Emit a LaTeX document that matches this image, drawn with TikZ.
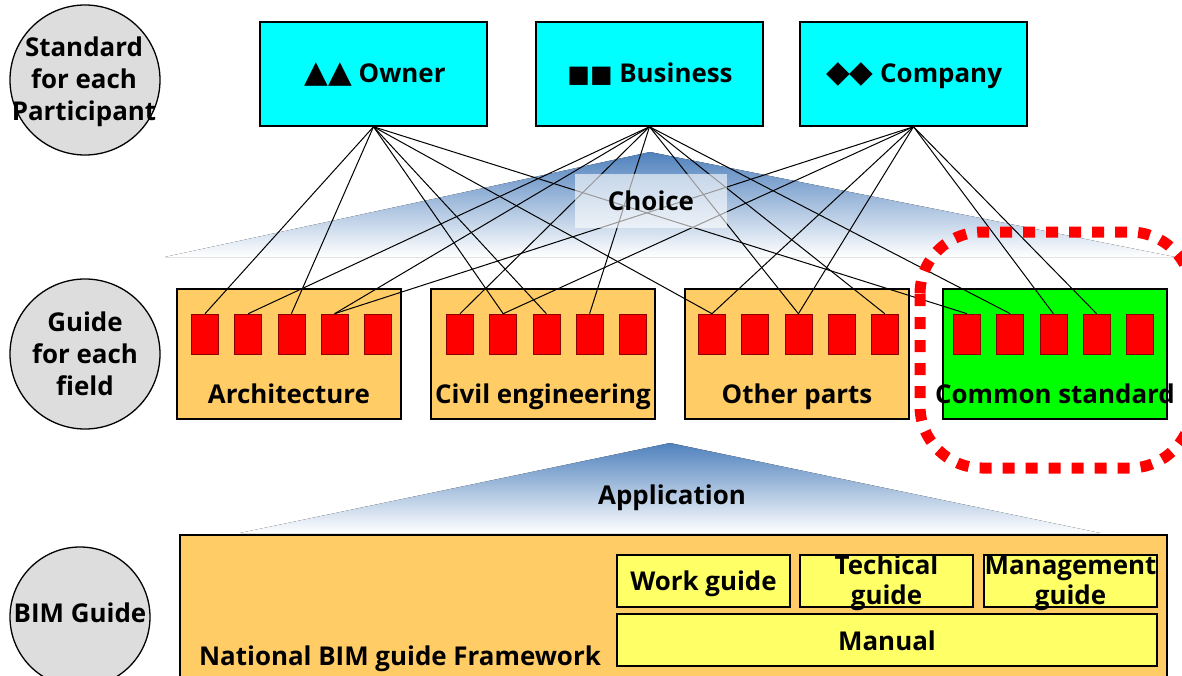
\documentclass[tikz,border=0pt]{standalone}
\usepackage{fontspec}
\setmainfont{Open Sans}
\newfontfamily\symfont{DejaVu Sans}
\definecolor{orangebg}{RGB}{255,204,102}
\definecolor{yellowbox}{RGB}{255,255,102}
\definecolor{circgray}{RGB}{221,221,221}
\definecolor{steel}{RGB}{79,129,189}
\definecolor{cyanbox}{RGB}{0,255,255}
\definecolor{greenbox}{RGB}{0,255,0}
\begin{document}
\begin{tikzpicture}[x=1bp,y=-1bp,
  lab/.style={font=\bfseries\fontsize{26}{32}\selectfont, align=center, inner sep=0pt},
  blab/.style={lab, anchor=base},
  circ/.style={circle, draw=black, line width=1.3bp, fill=circgray, inner sep=0pt},
  topbox/.style={draw=black, line width=1.5bp, fill=cyanbox, minimum width=227bp, minimum height=104bp, inner sep=0pt},
  fieldbox/.style={draw=black, line width=1.5bp, fill=orangebg, minimum width=224bp, minimum height=130bp, inner sep=0pt},
  sq/.style={draw=red!55!black, line width=0.6bp, fill=red, minimum width=27bp, minimum height=40bp, inner sep=0pt},
  conn/.style={line width=1bp, black},
  ybox/.style={draw=black, line width=1.2bp, fill=yellowbox, inner sep=0pt},
  fade/.style={top color=steel, bottom color=white}
]
\useasboundingbox (0,0) rectangle (1182,676);
\clip (0,0) rectangle (1182,676);

% gradient roofs
\fill[fade] (650,152) -- (165,257) -- (1175,257) -- cycle;
\fill[fade] (670,443) -- (240,533) -- (1100,533) -- cycle;

% left circles
\node[circ, minimum size=150bp] (c1) at (85,80) {};
\node[lab] (c1t) at (84,82) {Standard\\for each\\Participant};
\node[circ, minimum size=150bp] (c2) at (85,354) {};
\node[lab] (c2t) at (85,354) {Guide\\for each\\field};
\node[circ, minimum size=140bp] (c3) at (80,617) {};
\node[blab] (c3t) at (80,622) {BIM Guide};

% top boxes
\node[topbox] (own) at (373.5,74) {};
\node[blab] at (375,83) {{\symfont\fontsize{31}{34}\selectfont ▲▲} Owner};
\node[topbox] (bus) at (649.5,74) {};
\node[blab] at (650,83) {{\symfont\fontsize{24}{28}\selectfont ■■} Business};
\node[topbox] (com) at (913.5,74) {};
\node[blab] at (914,83) {{\symfont\fontsize{31}{34}\selectfont ◆◆} Company};

% field boxes
\node[fieldbox] (arch) at (289,354) {};
\node[fieldbox] (civ) at (543,354) {};
\node[fieldbox] (oth) at (797,354) {};
\node[fieldbox, fill=greenbox] (cst) at (1055,354) {};

\foreach \n/\x in {a/205, c/460, o/712, s/967}{
  \foreach \i in {1,...,5}{
    \node[sq] (\n\i) at ({\x+(\i-1)*43.2},334) {};
  }
}

\node[blab] at (289,403) {Architecture};
\node[blab] at (543,403) {Civil engineering};
\node[blab] at (797,403) {Other parts};
\node[blab] at (1055,403) {Common standard};

% connectors
\foreach \t in {a1,a3,c2,c3,o1,s1} \draw[conn] (own.south) -- (\t.north);
\foreach \t in {a2,a4,c1,c4,o3,o5,s2} \draw[conn] (bus.south) -- (\t.north);
\foreach \t in {a4,c2,o1,o3,s3,s4} \draw[conn] (com.south) -- (\t.north);

% choice box
\node[fill=white, fill opacity=0.6, text opacity=1, minimum width=152bp, minimum height=53bp, inner sep=0pt] (choice) at (651,201) {};
\node[blab] at (651,211) {Choice};

% application
\node[blab] (app) at (672,504) {Application};

% bottom framework box
\draw[draw=black, line width=1.5bp, fill=orangebg] (180,535) rectangle (1167,700);
\node[blab] (nat) at (400,665) {National BIM guide Framework};
\node[ybox, minimum width=173bp, minimum height=52bp] (wg) at (703.5,581) {};
\node[blab] at (703.5,590) {Work guide};
\node[ybox, minimum width=173bp, minimum height=52bp] (tg) at (886.5,581) {};
\node[lab, font=\bfseries\fontsize{26}{30}\selectfont] at (886.5,583) {Techical\\guide};
\node[ybox, minimum width=173bp, minimum height=52bp] (mg) at (1070.5,581) {};
\node[lab, font=\bfseries\fontsize{26}{30}\selectfont] at (1070.5,583) {Management\\guide};
\node[ybox, minimum width=540bp, minimum height=52bp] (man) at (887,640) {};
\node[blab] at (887,650) {Manual};

% red dotted highlight
\draw[red, line width=11bp, dash pattern=on 12bp off 11bp, rounded corners=62bp] (920,232) rectangle (1192,468);
\end{tikzpicture}
\end{document}
